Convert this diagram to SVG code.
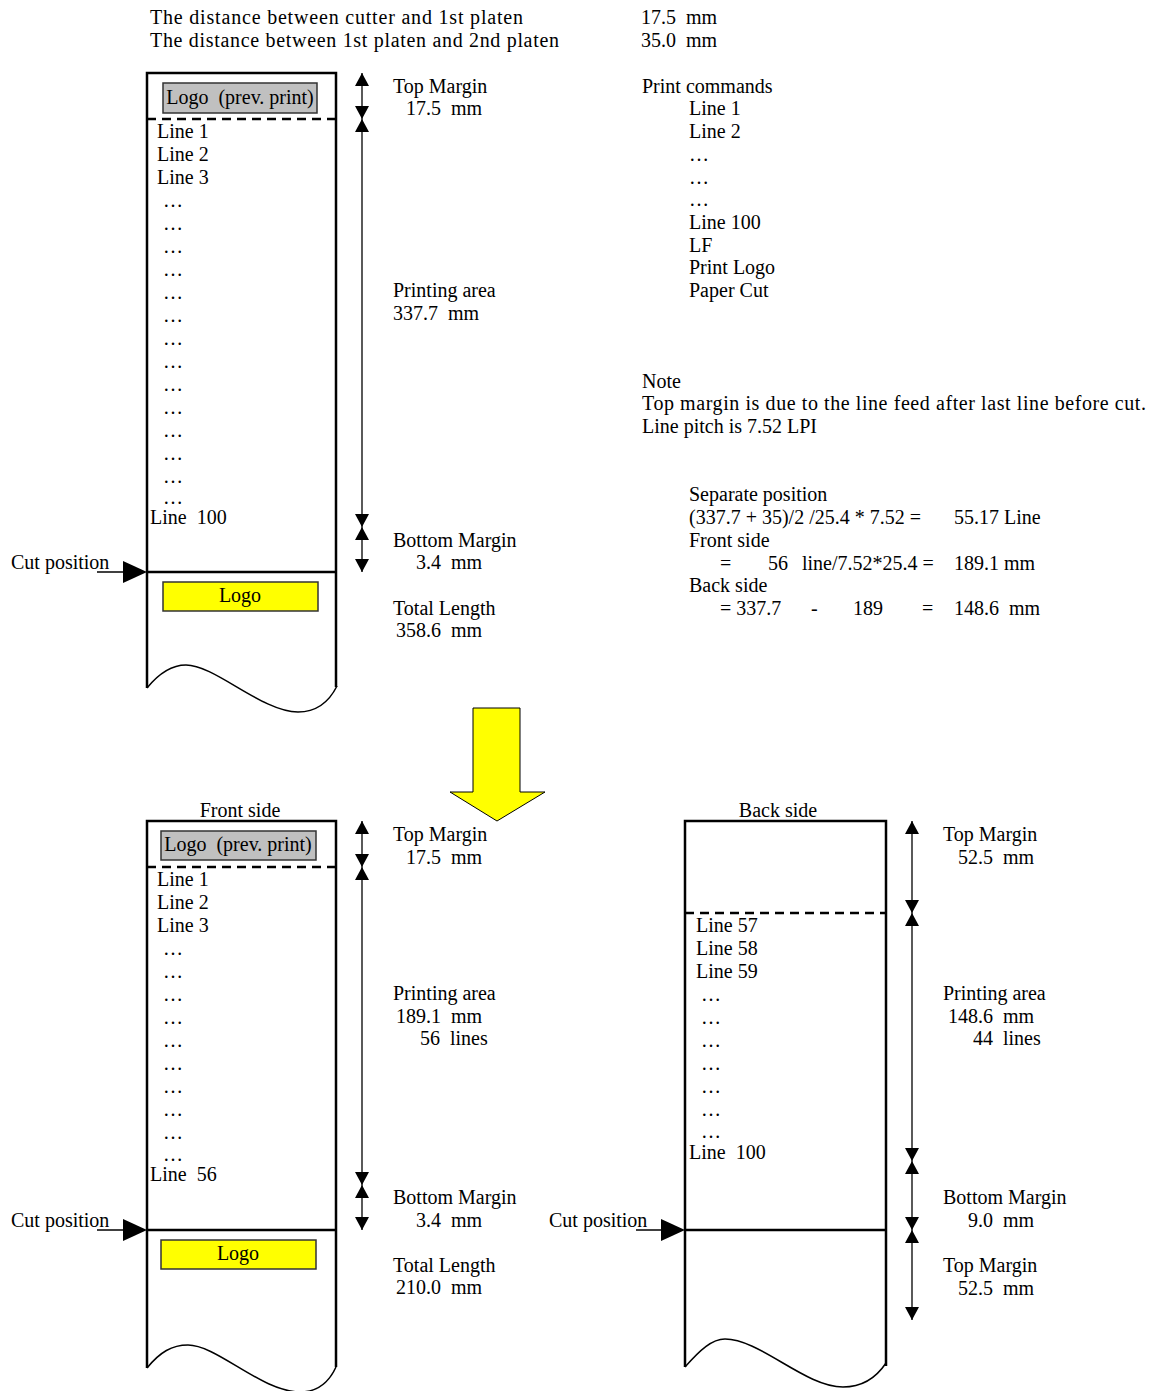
<svg xmlns="http://www.w3.org/2000/svg" width="1155" height="1391" viewBox="0 0 1155 1391">
<style>
.t{font-family:"Liberation Serif","Times New Roman",serif;font-size:20px;fill:#000;white-space:pre}
.m{text-anchor:middle}
.paper{fill:none;stroke:#000;stroke-width:2.5}
.wave{fill:none;stroke:#000;stroke-width:1.5}
.cut{stroke:#000;stroke-width:2.5}
.dash{stroke:#000;stroke-width:2.5;stroke-dasharray:9 6}
.dim{stroke:#000;stroke-width:1.3;marker-start:url(#ah);marker-end:url(#ah)}
.gray{fill:#c0c0c0;stroke:#333;stroke-width:1.5}
.yel{fill:#ffff00;stroke:#333;stroke-width:1.5}
.shaft{stroke:#000;stroke-width:1.5}
</style>
<defs>
<marker id="ah" viewBox="0 0 13 14" refX="13" refY="7" markerWidth="13" markerHeight="14" orient="auto-start-reverse" markerUnits="userSpaceOnUse"><path d="M0,0 L13,7 L0,14 z" fill="#000"/></marker>
</defs>
<rect width="1155" height="1391" fill="#fff"/>

<g id="header">
<text class="t" x="150" y="24" textLength="373">The distance between cutter and 1st platen</text>
<text class="t" x="150" y="47" textLength="409">The distance between 1st platen and 2nd platen</text>
<text class="t" x="641" y="24">17.5  mm</text>
<text class="t" x="641" y="47">35.0  mm</text>
</g>

<g id="paper-original">
<path class="paper" d="M147,688 V73 H336 V687"/>
<path class="wave" d="M147,688 C160,672 172,665 186,665 C215,665 262,712 298,712 C318,712 330,700 337,686"/>
<rect class="gray" x="163" y="83" width="154" height="30"/>
<text class="t m" x="240" y="104">Logo  (prev. print)</text>
<line class="dash" x1="147" y1="119" x2="336" y2="119"/>
<text class="t" x="157" y="138">Line 1</text>
<text class="t" x="157" y="161">Line 2</text>
<text class="t" x="157" y="184">Line 3</text>
<text class="t" x="163" y="207">…</text>
<text class="t" x="163" y="230">…</text>
<text class="t" x="163" y="253">…</text>
<text class="t" x="163" y="276">…</text>
<text class="t" x="163" y="299">…</text>
<text class="t" x="163" y="322">…</text>
<text class="t" x="163" y="345">…</text>
<text class="t" x="163" y="368">…</text>
<text class="t" x="163" y="391">…</text>
<text class="t" x="163" y="414">…</text>
<text class="t" x="163" y="437">…</text>
<text class="t" x="163" y="460">…</text>
<text class="t" x="163" y="483">…</text>
<text class="t" x="163" y="504">…</text>
<text class="t" x="150" y="524">Line  100</text>
<line class="cut" x1="147" y1="572" x2="336" y2="572"/>
<rect class="yel" x="163" y="582" width="155" height="29"/>
<text class="t m" x="240" y="602">Logo</text>
</g>

<g id="cut-1">
<text class="t" x="11" y="569">Cut position</text>
<line class="shaft" x1="97" y1="572" x2="125" y2="572"/>
<polygon points="123,561 147,572 123,583" fill="#000"/>
</g>

<g id="labels-original">
<text class="t" x="393" y="93">Top Margin</text>
<text class="t" x="406" y="115">17.5  mm</text>
<text class="t" x="393" y="297">Printing area</text>
<text class="t" x="393" y="320">337.7  mm</text>
<text class="t" x="393" y="547">Bottom Margin</text>
<text class="t" x="416" y="569">3.4  mm</text>
<text class="t" x="393" y="615">Total Length</text>
<text class="t" x="396" y="637">358.6  mm</text>
</g>

<g id="commands">
<text class="t" x="642" y="93">Print commands</text>
<text class="t" x="689" y="115">Line 1</text>
<text class="t" x="689" y="138">Line 2</text>
<text class="t" x="689" y="161">…</text>
<text class="t" x="689" y="184">…</text>
<text class="t" x="689" y="206">…</text>
<text class="t" x="689" y="229">Line 100</text>
<text class="t" x="689" y="252">LF</text>
<text class="t" x="689" y="274">Print Logo</text>
<text class="t" x="689" y="297">Paper Cut</text>
</g>

<g id="note">
<text class="t" x="642" y="388">Note</text>
<text class="t" x="642" y="410" textLength="504">Top margin is due to the line feed after last line before cut.</text>
<text class="t" x="642" y="433">Line pitch is 7.52 LPI</text>
</g>

<g id="calc">
<text class="t" x="689" y="501">Separate position</text>
<text class="t" x="689" y="524">(337.7 + 35)/2 /25.4 * 7.52 =</text>
<text class="t" x="954" y="524">55.17 Line</text>
<text class="t" x="689" y="547">Front side</text>
<text class="t" x="720" y="570">=</text>
<text class="t" x="768" y="570">56</text>
<text class="t" x="802" y="570">line/7.52*25.4 =</text>
<text class="t" x="954" y="570">189.1 mm</text>
<text class="t" x="689" y="592">Back side</text>
<text class="t" x="720" y="615">= 337.7</text>
<text class="t" x="811" y="615">-</text>
<text class="t" x="853" y="615">189</text>
<text class="t" x="922" y="615">=</text>
<text class="t" x="954" y="615">148.6  mm</text>
</g>

<g id="big-arrow">
<polygon points="473,708 520,708 520,792 545,792 497,821 450,792 473,792" fill="#ffff00" stroke="#000" stroke-width="1"/>
</g>

<g id="paper-front">
<text class="t m" x="240" y="817">Front side</text>
<path class="paper" d="M147,1368 V821 H336 V1367"/>
<path class="wave" d="M147,1368 C160,1352 172,1345 188,1345 C217,1345 262,1392 300,1392 C320,1392 330,1380 336,1367"/>
<rect class="gray" x="161" y="831" width="155" height="29"/>
<text class="t m" x="238" y="851">Logo  (prev. print)</text>
<line class="dash" x1="147" y1="867" x2="336" y2="867"/>
<text class="t" x="157" y="886">Line 1</text>
<text class="t" x="157" y="909">Line 2</text>
<text class="t" x="157" y="932">Line 3</text>
<text class="t" x="163" y="955">…</text>
<text class="t" x="163" y="978">…</text>
<text class="t" x="163" y="1001">…</text>
<text class="t" x="163" y="1024">…</text>
<text class="t" x="163" y="1047">…</text>
<text class="t" x="163" y="1070">…</text>
<text class="t" x="163" y="1093">…</text>
<text class="t" x="163" y="1116">…</text>
<text class="t" x="163" y="1139">…</text>
<text class="t" x="163" y="1161">…</text>
<text class="t" x="150" y="1181">Line  56</text>
<line class="cut" x1="147" y1="1230" x2="336" y2="1230"/>
<rect class="yel" x="161" y="1240" width="155" height="29"/>
<text class="t m" x="238" y="1260">Logo</text>
</g>

<g id="cut-2">
<text class="t" x="11" y="1227">Cut position</text>
<line class="shaft" x1="97" y1="1230" x2="125" y2="1230"/>
<polygon points="123,1219 147,1230 123,1241" fill="#000"/>
</g>

<g id="labels-front">
<text class="t" x="393" y="841">Top Margin</text>
<text class="t" x="406" y="864">17.5  mm</text>
<text class="t" x="393" y="1000">Printing area</text>
<text class="t" x="396" y="1023">189.1  mm</text>
<text class="t" x="420" y="1045">56  lines</text>
<text class="t" x="393" y="1204">Bottom Margin</text>
<text class="t" x="416" y="1227">3.4  mm</text>
<text class="t" x="393" y="1272">Total Length</text>
<text class="t" x="396" y="1294">210.0  mm</text>
</g>

<g id="paper-back">
<text class="t m" x="778" y="817">Back side</text>
<path class="paper" d="M685,1367 V821 H886 V1366"/>
<path class="wave" d="M685,1367 C700,1350 712,1339 725,1339 C760,1339 805,1387 843,1387 C865,1387 878,1375 886,1363"/>
<line class="dash" x1="685" y1="913" x2="886" y2="913"/>
<text class="t" x="696" y="932">Line 57</text>
<text class="t" x="696" y="955">Line 58</text>
<text class="t" x="696" y="978">Line 59</text>
<text class="t" x="701" y="1001">…</text>
<text class="t" x="701" y="1024">…</text>
<text class="t" x="701" y="1047">…</text>
<text class="t" x="701" y="1070">…</text>
<text class="t" x="701" y="1093">…</text>
<text class="t" x="701" y="1116">…</text>
<text class="t" x="701" y="1138">…</text>
<text class="t" x="689" y="1159">Line  100</text>
<line class="cut" x1="685" y1="1230" x2="886" y2="1230"/>
</g>

<g id="cut-3">
<text class="t" x="549" y="1227">Cut position</text>
<line class="shaft" x1="636" y1="1230" x2="663" y2="1230"/>
<polygon points="661,1219 685,1230 661,1241" fill="#000"/>
</g>

<g id="labels-back">
<text class="t" x="943" y="841">Top Margin</text>
<text class="t" x="958" y="864">52.5  mm</text>
<text class="t" x="943" y="1000">Printing area</text>
<text class="t" x="948" y="1023">148.6  mm</text>
<text class="t" x="973" y="1045">44  lines</text>
<text class="t" x="943" y="1204">Bottom Margin</text>
<text class="t" x="968" y="1227">9.0  mm</text>
<text class="t" x="943" y="1272">Top Margin</text>
<text class="t" x="958" y="1295">52.5  mm</text>
</g>

<g id="connectors">
<line class="dim" x1="362" y1="73" x2="362" y2="119"/>
<line class="dim" x1="362" y1="119" x2="362" y2="527"/>
<line class="dim" x1="362" y1="527" x2="362" y2="572"/>
<line class="dim" x1="362" y1="821" x2="362" y2="867"/>
<line class="dim" x1="362" y1="867" x2="362" y2="1185"/>
<line class="dim" x1="362" y1="1185" x2="362" y2="1230"/>
<line class="dim" x1="912" y1="821" x2="912" y2="913"/>
<line class="dim" x1="912" y1="913" x2="912" y2="1161"/>
<line class="dim" x1="912" y1="1161" x2="912" y2="1230"/>
<line class="dim" x1="912" y1="1230" x2="912" y2="1320"/>
</g>
</svg>
